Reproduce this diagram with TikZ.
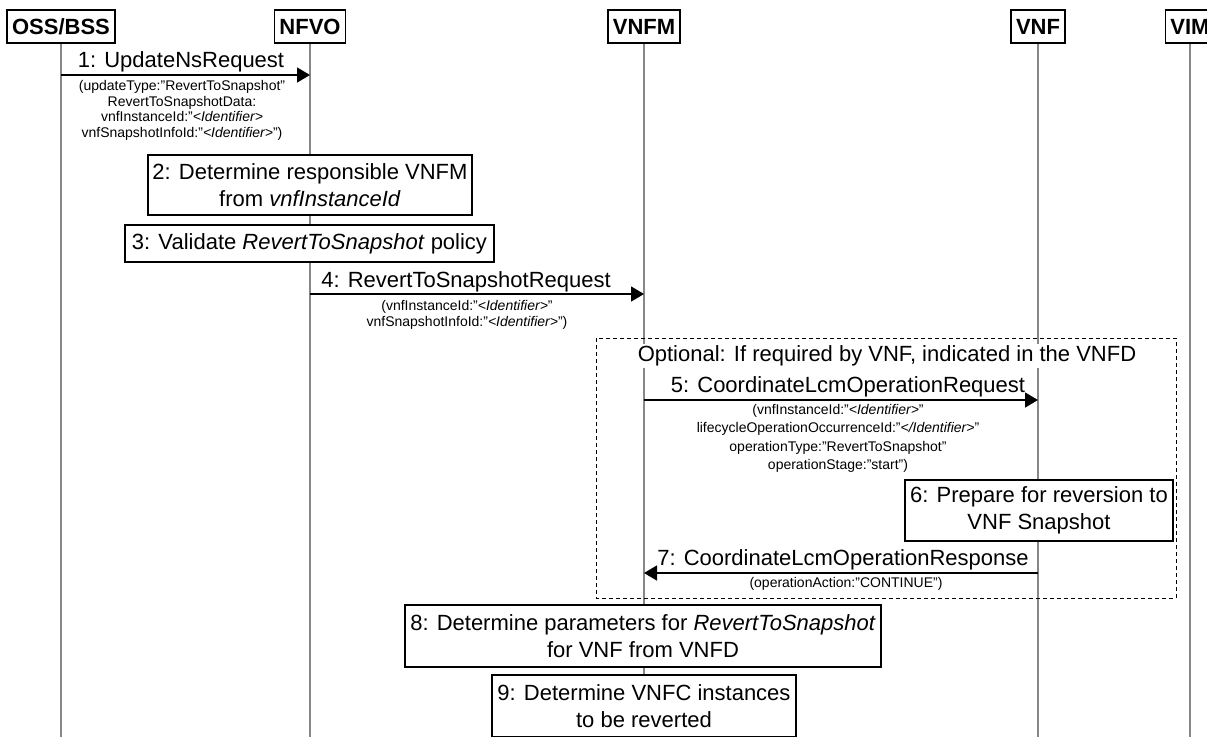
\documentclass[tikz,border=0pt]{standalone}
\usepackage{fontspec}
\setmainfont{Liberation Sans}
\usetikzlibrary{arrows.meta}

\begin{document}
\begin{tikzpicture}[x=0.5pt,y=-0.5pt,
  head/.style={draw, line width=0.75pt, fill=white, inner xsep=2.5pt, inner ysep=0pt,
    minimum height=16.5pt, font=\fontsize{11}{13}\selectfont\bfseries},
  life/.style={draw=black!47, line width=1.35pt},
  msg/.style={line width=0.75pt, -{Triangle[length=6.5pt,width=7.5pt]}},
  msglabel/.style={inner sep=0pt, font=\fontsize{11}{13}\selectfont},
  param/.style={inner sep=0pt, align=center, font=\fontsize{7}{8.3}\selectfont},
  stepbox/.style={draw, line width=0.75pt, fill=white, align=center, inner sep=0pt,
    font=\fontsize{11}{13.5}\selectfont},
  optframe/.style={line width=0.5pt, dash pattern=on 2pt off 1.5pt}]

\def \ossx {61}
\def \nfvox {310}
\def \vnfmx {644}
\def \vnfx {1038}
\def \vimx {1190}
\def \heady {26.5}
\def \liney {740}

\clip (0,0) rectangle (1207,736);

\node[head] (oss) at (\ossx,\heady) {OSS/BSS};
\node[head] (nfvo) at (\nfvox,\heady) {NFVO};
\node[head] (vnfm) at (\vnfmx,\heady) {VNFM};
\node[head] (vnf) at (\vnfx,\heady) {VNF};
\node[head] (vim) at (\vimx,\heady) {VIM};

\foreach \n/\x in {oss/\ossx, nfvo/\nfvox, vnfm/\vnfmx, vnf/\vnfx, vim/\vimx} {
  \coordinate (\n-end) at (\x,\liney);
  \draw[life] (\n) -- (\n-end);
}

\draw[optframe] (596,338) rectangle (1176,598);

\coordinate (m1a) at (\ossx,75);
\coordinate (m1b) at (\nfvox,75);
\draw[msg] (m1a) -- (m1b);
\node[msglabel] (m1label) at (181,62) {1: UpdateNsRequest};
\node[param, font=\fontsize{7}{7.8}\selectfont] (m1param) at (182,110.5) {(updateType:"RevertToSnapshot"\\
  RevertToSnapshotData:\\
  vnfInstanceId:"\textit{<Identifier>}\\
  vnfSnapshotInfoId:"\textit{<Identifier>}")};

\node[stepbox, minimum width=162pt, minimum height=30pt] (determine) at (310,185)
  {2: Determine responsible VNFM\\from \textit{vnfInstanceId}};
\node[stepbox, minimum width=184.5pt, minimum height=18.5pt] (validate) at (309.5,243.5)
  {3: Validate \textit{RevertToSnapshot} policy};

\coordinate (m4a) at (\nfvox,294);
\coordinate (m4b) at (\vnfmx,294);
\draw[msg] (m4a) -- (m4b);
\node[msglabel] (m4label) at (466,282) {4: RevertToSnapshotRequest};
\node[param] (m4param) at (467,315) {(vnfInstanceId:"\textit{<Identifier>}"\\
  vnfSnapshotInfoId:"\textit{<Identifier>}")};

\node[msglabel, fill=white, inner sep=1pt] (optional) at (887,356)
  {Optional: If required by VNF, indicated in the VNFD};

\coordinate (m5a) at (\vnfmx,400);
\coordinate (m5b) at (\vnfx,400);
\draw[msg] (m5a) -- (m5b);
\node[msglabel] (m5label) at (848,387) {5: CoordinateLcmOperationRequest};
\node[param, font=\fontsize{7}{9.2}\selectfont] (m5param) at (838,438.5) {(vnfInstanceId:"\textit{<Identifier>}"\\
  lifecycleOperationOccurrenceId:"\textit{</Identifier>}"\\
  operationType:"RevertToSnapshot"\\
  operationStage:"start")};

\node[stepbox, minimum width=134pt, minimum height=30.5pt] (prepare) at (1039,510.5)
  {6: Prepare for reversion to\\VNF Snapshot};

\coordinate (m7a) at (\vnfx,573);
\coordinate (m7b) at (\vnfmx,573);
\draw[msg] (m7a) -- (m7b);
\node[msglabel] (m7label) at (843,560) {7: CoordinateLcmOperationResponse};
\node[param] (m7param) at (846,584) {(operationAction:"CONTINUE")};

\node[stepbox, minimum width=238pt, minimum height=31pt] (params) at (643,636)
  {8: Determine parameters for \textit{RevertToSnapshot}\\for VNF from VNFD};
\node[stepbox, minimum width=152pt, minimum height=31pt] (instances) at (644,706)
  {9: Determine VNFC instances\\to be reverted};
\end{tikzpicture}
\end{document}
